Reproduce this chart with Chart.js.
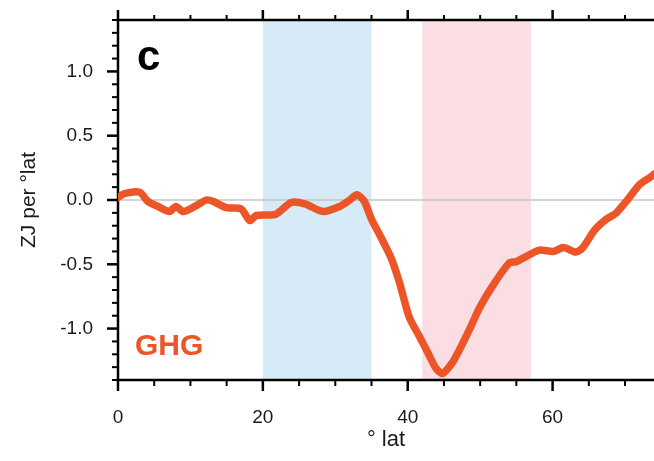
<!DOCTYPE html>
<html><head><meta charset="utf-8">
<script src="https://cdn.jsdelivr.net/npm/chart.js@4/dist/chart.umd.min.js"></script>
<style>html,body{margin:0;padding:0;background:#fff}#c{display:block}</style>
</head><body>
<canvas id="c" width="654" height="461"></canvas>
<script>
// ---- data ----
const lat = [0, 0.9, 3.0, 4.1, 5.5, 7.1, 8.0, 9.0, 10.6, 12.2, 13.1, 15.0, 17.0, 18.2, 19.1, 21.8, 23.9, 25.8, 28.3, 30.6, 32.0, 33.0, 34.0, 35.0, 36.3, 37.7, 38.9, 40.2, 41.6, 42.8, 43.9, 44.8, 46.1, 47.0, 48.5, 49.9, 51.7, 54.0, 55.0, 56.3, 58.2, 60.1, 61.5, 63.2, 64.1, 65.8, 67.4, 68.7, 70.1, 72.0, 73.3, 74.0];
const ghg = [0.02, 0.05, 0.06, -0.01, -0.05, -0.09, -0.05, -0.09, -0.05, 0.0, -0.01, -0.06, -0.07, -0.16, -0.12, -0.11, -0.02, -0.03, -0.09, -0.05, 0.0, 0.04, -0.01, -0.15, -0.29, -0.45, -0.65, -0.91, -1.06, -1.19, -1.31, -1.35, -1.27, -1.18, -1.01, -0.84, -0.67, -0.49, -0.48, -0.44, -0.39, -0.40, -0.37, -0.405, -0.375, -0.235, -0.15, -0.105, -0.015, 0.12, 0.17, 0.20];
const bandStart = [20, 42];
const bandEnd = [35, 57];
const xMajorStep = 20;
const yMajorStep = 0.5;
const panelLabel = 'c';
const seriesLabel = 'GHG';

const bandColors = ['rgb(214,234,248)', 'rgb(250,222,228)'];
const lineColor = '#EC5527';
const FONT = '"Liberation Sans", Arial, sans-serif';

const isMajorX = v => Math.abs(v / xMajorStep - Math.round(v / xMajorStep)) < 1e-6;
const isMajorY = v => Math.abs(v / yMajorStep - Math.round(v / yMajorStep)) < 1e-6;
const zeroPad = s => { s.paddingTop = 0; s.paddingBottom = 0; s.paddingLeft = 0; s.paddingRight = 0; };

const framePlugin = {
  id: 'frame',
  beforeDatasetsDraw(chart) {
    const { ctx, chartArea: a, scales: { x, y } } = chart;
    ctx.save();
    ctx.beginPath(); ctx.rect(a.left, a.top, a.right - a.left, a.bottom - a.top); ctx.clip();
    bandStart.forEach((s, i) => {
      const x0 = x.getPixelForValue(s), x1 = x.getPixelForValue(bandEnd[i]);
      ctx.fillStyle = bandColors[i];
      ctx.fillRect(x0, a.top, x1 - x0, a.bottom - a.top);
    });
    const y0 = y.getPixelForValue(0);
    ctx.strokeStyle = '#c4c4c4'; ctx.lineWidth = 1.5;
    ctx.beginPath(); ctx.moveTo(a.left, y0); ctx.lineTo(a.right, y0); ctx.stroke();
    ctx.restore();

    ctx.save();
    ctx.strokeStyle = '#000';
    ctx.lineWidth = 2.5;
    ctx.lineCap = 'butt';
    ctx.beginPath();
    ctx.moveTo(a.right + 2, a.top); ctx.lineTo(a.left, a.top); ctx.lineTo(a.left, a.bottom); ctx.lineTo(a.right + 2, a.bottom);
    ctx.stroke();
    y.ticks.forEach(t => {
      const py = y.getPixelForValue(t.value);
      const maj = isMajorY(t.value);
      ctx.lineWidth = maj ? 2.5 : 2;
      ctx.beginPath(); ctx.moveTo(a.left, py); ctx.lineTo(a.left - (maj ? 11 : 6), py); ctx.stroke();
    });
    x.ticks.forEach(t => {
      const px = x.getPixelForValue(t.value);
      const maj = isMajorX(t.value);
      ctx.lineWidth = maj ? 2.5 : 2;
      ctx.beginPath(); ctx.moveTo(px, a.bottom); ctx.lineTo(px, a.bottom + (maj ? 11 : 6)); ctx.stroke();
      ctx.beginPath(); ctx.moveTo(px, a.top); ctx.lineTo(px, a.top - (maj ? 10 : 5)); ctx.stroke();
    });
    ctx.restore();
  },
  afterDraw(chart) {
    const { ctx, chartArea: a } = chart;
    ctx.save();
    ctx.textAlign = 'left';
    ctx.textBaseline = 'alphabetic';
    ctx.fillStyle = '#000';
    ctx.font = 'bold 42px ' + FONT;
    ctx.fillText(panelLabel, a.left + 19, a.top + 50);
    ctx.fillStyle = lineColor;
    ctx.font = 'bold 30px ' + FONT;
    ctx.fillText(seriesLabel, a.left + 17, a.top + 335);
    ctx.restore();
  }
};

new Chart(document.getElementById('c'), {
  type: 'line',
  data: {
    datasets: [{
      data: lat.map((v, i) => ({ x: v, y: ghg[i] })),
      borderColor: lineColor,
      borderWidth: 7.5,
      pointRadius: 0,
      tension: 0.25,
      borderCapStyle: 'round',
      borderJoinStyle: 'round',
      fill: false
    }]
  },
  options: {
    responsive: false,
    devicePixelRatio: 1,
    animation: false,
    layout: { padding: 0 },
    plugins: { legend: { display: false }, tooltip: { enabled: false } },
    scales: {
      x: {
        type: 'linear', position: 'bottom', min: 0, max: 74,
        grid: { display: false, drawTicks: false },
        border: { display: false },
        ticks: {
          stepSize: 5, includeBounds: false, autoSkip: false, maxRotation: 0,
          padding: 26, color: '#1a1a1a',
          font: { family: FONT, size: 19 },
          callback: v => (isMajorX(v) ? String(Math.round(v)) : '')
        },
        title: {
          display: true, text: '° lat', color: '#1a1a1a',
          font: { family: FONT, size: 22 },
          padding: { top: 0, bottom: 8 }
        },
        afterFit: s => { s.height = 81; zeroPad(s); }
      },
      x2: {
        type: 'linear', position: 'top', min: 0, max: 74,
        grid: { display: false, drawTicks: false },
        border: { display: false },
        ticks: { display: false },
        afterFit: s => { s.height = 20; zeroPad(s); }
      },
      y: {
        type: 'linear', min: -1.4, max: 1.4,
        grid: { display: false, drawTicks: false },
        border: { display: false },
        ticks: {
          stepSize: 0.1, includeBounds: false, autoSkip: false,
          padding: 25, color: '#1a1a1a',
          font: { family: FONT, size: 19 },
          callback: v => (isMajorY(v) ? (Math.abs(v) < 1e-9 ? '0.0' : v.toFixed(1)) : '')
        },
        title: {
          display: true, text: 'ZJ per °lat', color: '#1a1a1a',
          font: { family: FONT, size: 21 },
          padding: { top: 17, bottom: 0 }
        },
        afterFit: s => { s.width = 118; zeroPad(s); }
      }
    }
  },
  plugins: [framePlugin]
});
</script>
</body></html>
